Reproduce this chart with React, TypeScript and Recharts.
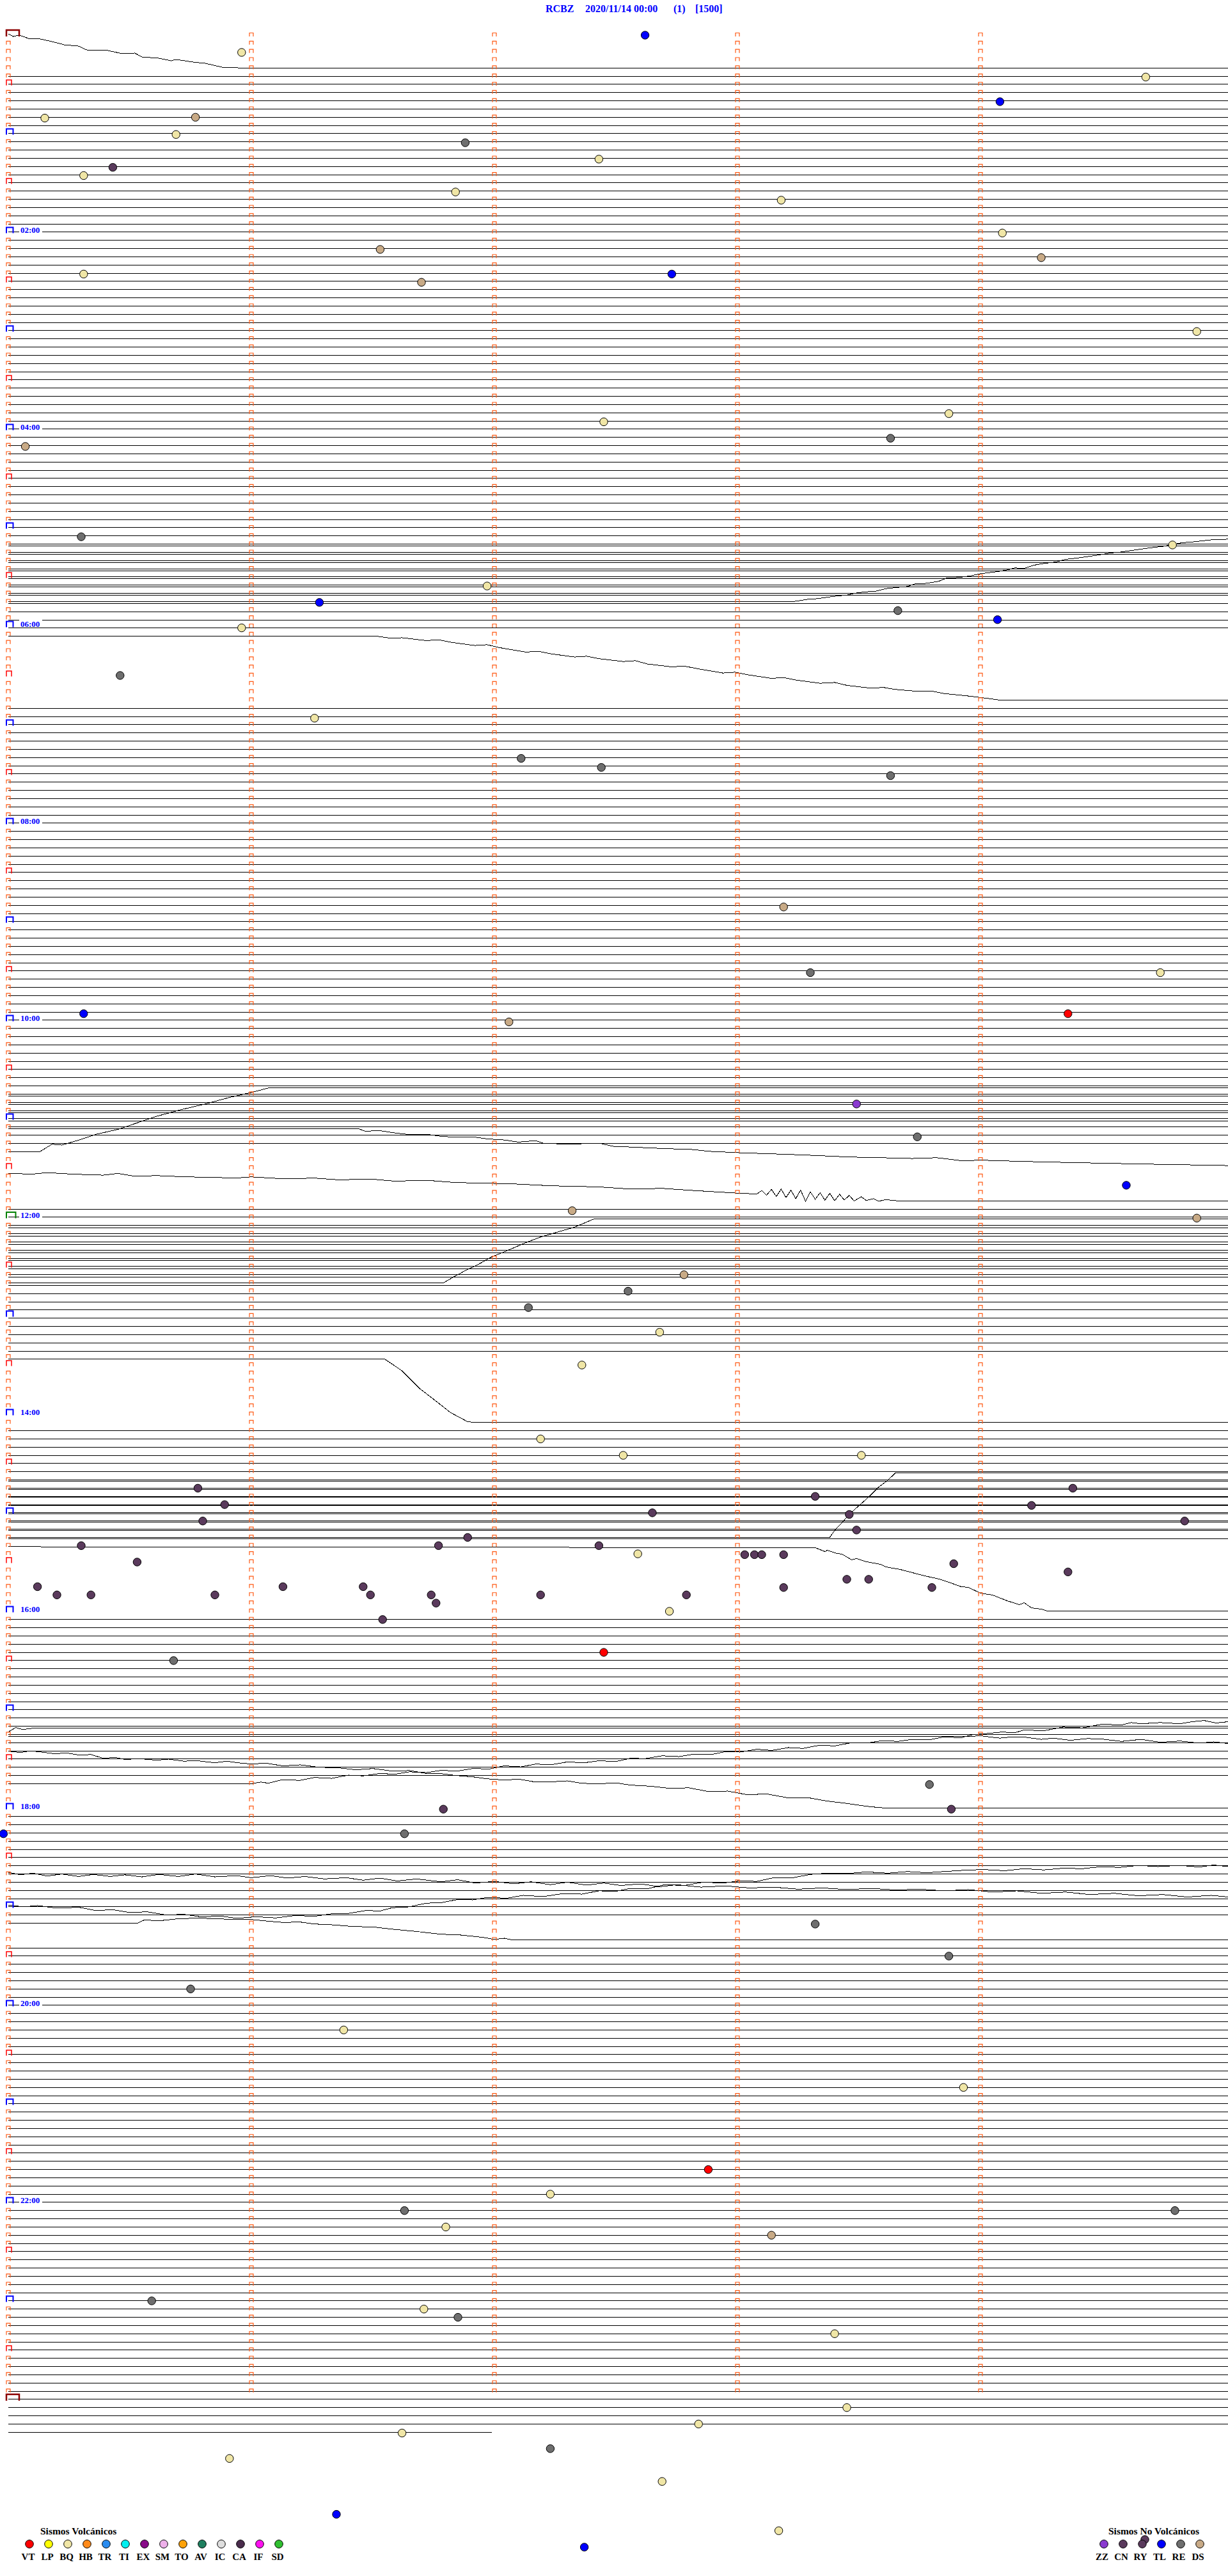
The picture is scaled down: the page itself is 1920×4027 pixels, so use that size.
import { ComposedChart, Line, Scatter, XAxis, YAxis } from 'recharts';

// helicorder RCBZ 2020/11/14 — one row = 5 min, one vertical tick = 1 min
const W = 1920;
const H = 4027;
const PX_PER_MIN = 380;
const PX_PER_ROW = 12.833;
const LEFT_PX = 13;
const TOP_PX = 55;
const X_DOMAIN: [number, number] = [-LEFT_PX / PX_PER_MIN, (W - LEFT_PX) / PX_PER_MIN];
const Y_DOMAIN: [number, number] = [-TOP_PX / PX_PER_ROW, (H - TOP_PX) / PX_PER_ROW];
const T_END = X_DOMAIN[1];

const ROW_COUNT = 293; // 00:00 .. 24:20
const MARKED_ROWS = 288;
const MINUTE_TICKS = [0, 1, 2, 3, 4];
const HOUR_LABELS = ['02:00', '04:00', '06:00', '08:00', '10:00', '12:00', '14:00', '16:00', '18:00', '20:00', '22:00'];

// rows whose own baseline is not drawn (their trace is drawn elsewhere)
const HIDDEN_ROWS = [0, 1, 2, 3, 4, 69, 81, 136, 141, 142, 152, 169, 183, 192, 213, 214, 215, 216, 230, 231, 232];
const PARTIAL_ROWS = [{ row: 292, end: 1.99 }];
// rows drawn with a constant DC shift (in rows)
const OFFSET_BLOCKS = [
  { first: 70, last: 80, shift: -7.77 },
  { first: 137, last: 140, shift: -7.75 },
  { first: 153, last: 168, shift: -7.7 },
  { first: 184, last: 191, shift: -7.87 },
];

// drifting traces: [minute, row position]
const TRACE_0 = [[0, -0.16], [0.02, 0.16], [0.045, 0], [0.09, 0.47], [0.12, 0.39], [0.18, 0.78], [0.23, 1.17], [0.29, 1.33], [0.32, 1.79], [0.41, 1.87], [0.47, 2.26], [0.52, 2.18], [0.55, 2.65], [0.62, 2.81], [0.67, 3.12], [0.69, 2.96], [0.76, 3.27], [0.81, 3.43], [0.88, 3.9], [0.93, 3.9], [0.95, 4.0], [5.02, 4.0]];
const TRACE_69 = [[0, 69], [3.23, 69], [3.29, 68.72], [3.33, 68.64], [3.39, 68.38], [3.45, 68.2], [3.49, 67.94], [3.53, 67.81], [3.57, 67.73], [3.61, 67.42], [3.65, 67.29], [3.7, 67.16], [3.73, 66.85], [3.78, 66.77], [3.83, 66.51], [3.86, 66.12], [3.91, 66.07], [3.96, 65.86], [4.0, 65.6], [4.07, 65.34], [4.12, 65.08], [4.14, 64.9], [4.18, 64.95], [4.22, 64.56], [4.26, 64.36], [4.31, 64.17], [4.35, 63.86], [4.41, 63.65], [4.47, 63.39], [4.54, 63.06], [4.58, 62.95], [4.63, 62.74], [4.69, 62.48], [4.75, 62.27], [4.83, 61.83], [4.88, 61.71], [4.96, 61.44], [5.02, 61.4]];
const TRACE_81 = [[0, 73.23], [1.52, 73.23], [1.57, 73.45], [1.62, 73.4], [1.72, 73.75], [1.77, 73.65], [1.82, 73.95], [1.92, 74.35], [1.97, 74.25], [2.02, 74.6], [2.13, 75.15], [2.18, 75.05], [2.23, 75.35], [2.33, 75.75], [2.38, 75.65], [2.43, 75.95], [2.53, 76.3], [2.58, 76.2], [2.63, 76.6], [2.73, 76.95], [2.78, 76.85], [2.84, 77.2], [2.94, 77.7], [2.99, 77.6], [3.04, 77.9], [3.14, 78.35], [3.19, 78.25], [3.24, 78.55], [3.34, 78.95], [3.4, 78.85], [3.45, 79.2], [3.55, 79.55], [3.6, 79.45], [3.65, 79.7], [3.75, 79.95], [3.8, 79.9], [3.85, 80.2], [3.95, 80.5], [4.02, 80.75], [4.08, 81], [5.02, 81]];
const TRACE_136 = [[0, 136], [0.13, 136], [0.18, 135.1], [0.22, 135.2], [0.29, 134.6], [0.36, 133.9], [0.45, 133.3], [0.55, 132.3], [0.61, 131.7], [0.71, 130.9], [0.81, 130.2], [0.91, 129.4], [1.0, 128.8], [1.07, 128.25], [5.02, 128.25]];
const TRACE_141 = [[0, 133.25], [1.36, 133.23], [1.44, 133.2], [1.47, 133.54], [1.52, 133.41], [1.59, 133.72], [1.65, 133.93], [1.72, 133.88], [1.78, 134.14], [1.84, 134.24], [1.91, 134.19], [1.97, 134.45], [2.04, 134.58], [2.1, 134.84], [2.17, 134.66], [2.2, 134.97], [2.3, 135.1], [2.43, 134.97], [2.49, 135.36], [2.56, 135.44], [2.69, 135.62], [2.82, 135.75], [2.88, 135.96], [3.01, 136.14], [3.21, 136.34], [3.33, 136.48], [3.46, 136.66], [3.59, 136.74], [3.72, 136.84], [3.82, 136.74], [3.92, 137.1], [4.01, 137.05], [4.18, 137.2], [4.34, 137.31], [4.5, 137.41], [4.66, 137.51], [4.82, 137.59], [5.02, 137.7]];
const TRACE_142 = [[0, 138.66], [0.1, 138.74], [0.16, 138.56], [0.26, 138.74], [0.39, 138.87], [0.45, 138.66], [0.52, 139.0], [0.61, 138.92], [0.71, 139.05], [0.81, 139.13], [0.94, 139.21], [1.0, 139.08], [1.13, 139.31], [1.26, 139.23], [1.36, 139.44], [1.49, 139.34], [1.59, 139.6], [1.72, 139.49], [1.84, 139.77], [1.97, 139.85], [2.1, 139.96], [2.23, 140.16], [2.43, 140.3], [2.56, 140.56], [2.69, 140.48], [2.82, 140.74], [2.91, 140.9], [3.01, 141.08], [3.08, 141.16], [3.1, 140.74], [3.12, 141.3], [3.14, 140.6], [3.16, 141.47], [3.18, 140.56], [3.2, 141.6], [3.22, 140.7], [3.24, 141.73], [3.26, 140.69], [3.28, 142.04], [3.3, 140.9], [3.32, 141.8], [3.34, 141.0], [3.36, 141.91], [3.38, 141.08], [3.4, 141.99], [3.42, 141.2], [3.44, 141.9], [3.46, 141.33], [3.48, 142.0], [3.51, 141.5], [3.53, 141.95], [3.56, 141.73], [3.58, 142.05], [3.61, 141.85], [3.66, 142.0], [5.02, 142.0]];
const TRACE_152 = [[0, 152], [1.79, 152], [1.83, 151.3], [1.88, 150.5], [1.93, 149.8], [1.99, 148.8], [2.05, 148.1], [2.12, 147.2], [2.19, 146.4], [2.26, 145.8], [2.33, 145.2], [2.37, 144.7], [2.41, 144.2], [5.02, 144.2]];
const TRACE_169 = [[0, 161.3], [1.55, 161.3], [1.62, 162.7], [1.69, 164.8], [1.76, 166.4], [1.82, 167.8], [1.89, 168.9], [1.92, 169], [5.02, 169]];
const TRACE_183 = [[0, 183], [3.38, 183], [3.4, 182.14], [3.43, 181.21], [3.46, 180.2], [3.48, 179.65], [3.51, 178.87], [3.55, 177.8], [3.58, 176.9], [3.62, 176.0], [3.65, 175.13], [5.02, 175.13]];
const TRACE_192 = [[0, 184.13], [3.32, 184.25], [3.36, 184.72], [3.37, 184.56], [3.41, 184.95], [3.43, 185.03], [3.47, 185.73], [3.49, 185.58], [3.53, 185.96], [3.59, 186.28], [3.61, 186.59], [3.67, 186.9], [3.72, 187.29], [3.77, 187.68], [3.83, 188.07], [3.87, 188.46], [3.92, 189.0], [3.95, 189.08], [4.0, 189.79], [4.05, 190.02], [4.11, 190.72], [4.16, 191.19], [4.18, 190.96], [4.21, 191.58], [4.25, 191.73], [4.28, 192], [5.02, 192]];
const TRACE_213 = [[0, 213], [1.0, 213], [1.04, 212.8], [1.07, 212.94], [1.13, 212.5], [1.2, 212.6], [1.26, 212.24], [1.33, 212.35], [1.4, 211.95], [1.46, 212.05], [1.53, 211.75], [1.59, 211.85], [1.65, 211.55], [1.72, 211.65], [1.78, 211.38], [1.85, 211.45], [1.91, 211.15], [1.98, 211.2], [2.04, 210.83], [2.11, 210.95], [2.17, 210.6], [2.23, 210.7], [2.3, 210.35], [2.37, 210.45], [2.43, 210.2], [2.5, 210.3], [2.56, 209.9], [2.62, 209.95], [2.69, 209.6], [2.76, 209.7], [2.82, 209.4], [2.89, 209.45], [2.95, 209.1], [3.01, 209.15], [3.08, 208.8], [3.14, 208.95], [3.21, 208.6], [3.27, 208.7], [3.34, 208.3], [3.4, 208.4], [3.47, 208.0], [3.53, 208.05], [3.6, 207.75], [3.66, 207.85], [3.72, 207.6], [3.79, 207.65], [3.85, 207.3], [3.92, 207.4], [3.97, 207.0], [4.01, 206.94], [4.09, 206.7], [4.14, 206.8], [4.18, 206.45], [4.26, 206.55], [4.34, 206.1], [4.42, 206.2], [4.5, 205.75], [4.58, 205.85], [4.62, 205.55], [4.66, 205.7], [4.74, 205.55], [4.82, 205.7], [4.87, 205.45], [4.92, 205.3], [4.97, 205.6], [5.02, 205.45]];
const TRACE_214 = [[0, 206.7], [0.03, 206.16], [0.06, 206.4], [0.1, 206.24], [5.02, 206.24]];
const TRACE_215 = [[0, 207.25], [4.01, 207.2], [4.08, 207.45], [4.13, 207.3], [4.18, 207.32], [4.25, 207.6], [4.3, 207.45], [4.37, 207.71], [4.44, 207.5], [4.5, 207.56], [4.58, 207.85], [4.66, 207.6], [4.74, 207.95], [4.82, 207.8], [4.9, 208.05], [4.96, 207.9], [5.02, 208.1]];
const TRACE_216 = [[0, 209.04], [0.05, 209.2], [0.09, 209.0], [0.13, 209.12], [0.19, 209.35], [0.24, 209.25], [0.29, 209.5], [0.34, 209.45], [0.39, 209.9], [0.44, 209.8], [0.48, 210.05], [0.54, 209.95], [0.61, 210.13], [0.66, 210.0], [0.72, 210.25], [0.78, 210.21], [0.85, 210.45], [0.9, 210.25], [0.94, 210.44], [1.0, 210.6], [1.06, 210.5], [1.13, 210.83], [1.2, 210.7], [1.28, 211.0], [1.36, 211.07], [1.43, 211.3], [1.5, 211.15], [1.58, 211.46], [1.65, 211.4], [1.72, 211.75], [1.78, 211.77], [1.84, 212.0], [1.91, 212.16], [1.97, 212.4], [2.04, 212.55], [2.1, 212.45], [2.16, 212.75], [2.23, 212.78], [2.3, 212.65], [2.36, 212.95], [2.43, 213.01], [2.5, 212.9], [2.56, 213.17], [2.64, 213.3], [2.72, 213.56], [2.8, 213.5], [2.88, 213.95], [2.96, 213.9], [3.04, 214.34], [3.12, 214.25], [3.21, 214.73], [3.29, 214.7], [3.37, 215.12], [3.45, 215.4], [3.53, 215.74], [3.58, 215.9], [3.63, 216], [5.02, 216]];
const TRACE_228 = [[0, 227.77], [0.06, 228.0], [0.12, 227.85], [0.2, 228.15], [0.29, 228.05], [0.36, 228.45], [0.43, 228.35], [0.5, 228.7], [0.57, 228.6], [0.65, 229.0], [0.72, 228.9], [0.8, 229.25], [0.87, 229.1], [0.94, 229.4], [1.02, 229.2], [1.1, 229.35], [1.18, 229.05], [1.26, 229.15], [1.33, 228.85], [1.4, 228.8], [1.47, 228.45], [1.53, 228.5], [1.58, 228.1], [1.65, 228.0], [1.72, 227.55], [1.78, 227.5], [1.85, 227.1], [1.91, 227.15], [1.97, 226.85], [2.05, 226.95], [2.12, 226.6], [2.2, 226.75], [2.28, 226.4], [2.36, 226.45], [2.43, 226.05], [2.5, 226.1], [2.56, 225.75], [2.63, 225.8], [2.7, 225.3], [2.78, 225.4], [2.86, 225.0], [2.94, 225.1], [3.01, 224.85], [3.08, 224.9], [3.15, 224.45], [3.22, 224.5], [3.3, 224.05], [3.37, 223.9], [3.45, 223.95], [3.53, 223.75], [3.62, 223.9], [3.7, 223.7], [3.78, 223.85], [3.85, 223.7], [3.93, 223.55], [4.01, 223.45], [4.1, 223.6], [4.18, 223.35], [4.26, 223.5], [4.34, 223.3], [4.42, 223.35], [4.5, 223.1], [4.57, 223.2], [4.65, 222.95], [4.73, 223.1], [4.82, 222.95], [4.9, 223.15], [4.96, 222.9], [5.02, 223.1]];
const TRACE_229 = [[0, 223.8], [0.05, 224.1], [0.1, 223.9], [0.16, 224.25], [0.22, 224.0], [0.29, 224.3], [0.35, 224.05], [0.42, 224.3], [0.48, 224.1], [0.55, 224.35], [0.62, 224.05], [0.7, 224.3], [0.77, 224.0], [0.85, 224.35], [0.94, 224.2], [1.0, 224.45], [1.08, 224.2], [1.15, 224.5], [1.22, 224.3], [1.3, 224.6], [1.39, 224.45], [1.46, 224.75], [1.53, 224.5], [1.6, 224.85], [1.68, 224.6], [1.78, 224.95], [1.85, 224.7], [1.92, 225.1], [2.0, 224.9], [2.08, 225.2], [2.15, 224.95], [2.23, 225.3], [2.3, 225.0], [2.38, 225.35], [2.45, 225.1], [2.52, 225.4], [2.6, 225.2], [2.68, 225.55], [2.75, 225.3], [2.85, 225.6], [2.95, 225.45], [3.05, 225.7], [3.15, 225.6], [3.25, 225.85], [3.35, 225.7], [3.45, 225.9], [3.55, 225.75], [3.65, 225.95], [3.75, 225.85], [3.85, 226.05], [3.95, 225.9], [4.05, 226.2], [4.15, 226.05], [4.25, 226.35], [4.35, 226.2], [4.45, 226.5], [4.55, 226.35], [4.65, 226.65], [4.75, 226.5], [4.85, 226.8], [4.95, 226.6], [5.02, 226.8]];
const TRACE_230 = [[0, 230], [0.53, 230], [0.56, 229.6], [0.62, 229.7], [0.7, 229.45], [0.78, 229.37], [0.9, 229.5], [1.0, 229.54], [1.07, 229.75], [1.13, 229.9], [1.2, 229.85], [1.26, 230.09], [1.34, 230.2], [1.42, 230.4], [1.5, 230.45], [1.58, 230.72], [1.68, 231.0], [1.78, 231.34], [1.85, 231.4], [1.91, 231.58], [1.96, 231.75], [2.0, 231.97], [2.04, 231.82], [2.07, 232.0], [5.02, 232.0]];

const DRIFT_TRACES = [TRACE_0, TRACE_69, TRACE_81, TRACE_136, TRACE_141, TRACE_142, TRACE_152, TRACE_169, TRACE_183, TRACE_192, TRACE_213, TRACE_214, TRACE_215, TRACE_216, TRACE_228, TRACE_229, TRACE_230];

// events: [minute, row position]
const EVENTS_BQ = [[0.96, 2.1], [4.68, 5.1], [0.15, 10.1], [0.69, 12.1], [2.43, 15.1], [0.31, 17.1], [1.84, 19.1], [3.18, 20.1], [4.09, 24.1], [0.31, 29.1], [4.89, 36.1], [2.45, 47.1], [3.87, 46.1], [4.79, 62.1], [1.97, 67.1], [0.96, 72.2], [1.26, 83.2], [4.74, 114.2], [2.68, 158], [2.36, 162], [2.19, 171], [2.53, 173], [3.51, 173], [2.59, 185], [2.72, 192], [1.38, 243], [3.93, 250], [2.23, 263], [1.8, 267], [1.71, 277], [3.4, 280], [3.45, 289], [2.84, 291], [1.62, 292.1], [0.91, 295.2], [2.69, 298], [3.17, 304]];
const EVENTS_DS = [[0.77, 10], [1.53, 26.1], [4.25, 27.1], [1.7, 30.1], [0.07, 50.1], [3.19, 106.2], [2.06, 120.2], [2.32, 143.2], [4.89, 144.1], [2.78, 151], [3.14, 268]];
const EVENTS_RE = [[1.88, 13.1], [3.63, 49.1], [0.3, 61.1], [3.66, 70.1], [0.46, 78], [2.11, 88.1], [2.44, 89.2], [3.63, 90.2], [3.3, 114.2], [3.74, 134.2], [2.14, 155], [2.55, 153], [0.68, 198], [3.79, 213.1], [1.63, 219.1], [3.32, 230.1], [3.87, 234.0], [0.75, 238], [1.63, 265], [4.8, 265], [0.59, 276], [1.85, 278], [2.23, 294]];
const EVENTS_TL = [[2.62, 0], [4.08, 8.1], [2.73, 29.1], [1.28, 69.1], [4.07, 71.2], [0.31, 119.2], [4.6, 140.1], [-0.02, 219.1], [1.35, 302], [2.37, 306]];
const EVENTS_VT = [[4.36, 119.2], [2.45, 197], [2.88, 260]];
const EVENTS_ZZ = [[3.49, 130.2]];
const EVENTS_CN = [[0.43, 16.1], [0.78, 177], [0.89, 179], [4.38, 177], [3.32, 178], [4.21, 179.1], [2.65, 180], [0.8, 181], [3.46, 180.2], [3.49, 182.1], [4.84, 181], [1.89, 183], [1.77, 184], [0.3, 184], [2.43, 184], [3.03, 185.1], [3.07, 185.1], [3.1, 185.1], [3.19, 185.1], [0.53, 186], [3.89, 186.2], [4.36, 187.2], [3.45, 188.1], [3.54, 188.1], [0.12, 189], [3.19, 189.1], [3.8, 189.1], [0.2, 190], [0.34, 190], [0.85, 190], [1.13, 189], [1.46, 189], [1.49, 190], [1.74, 190], [1.76, 191], [2.19, 190], [2.79, 190], [1.54, 193], [3.88, 216.1], [1.79, 216.1]];

const EVENT_SERIES = [
  { code: 'BQ', pts: EVENTS_BQ },
  { code: 'DS', pts: EVENTS_DS },
  { code: 'RE', pts: EVENTS_RE },
  { code: 'TL', pts: EVENTS_TL },
  { code: 'VT', pts: EVENTS_VT },
  { code: 'ZZ', pts: EVENTS_ZZ },
  { code: 'CN', pts: EVENTS_CN },
];

const VOLCANIC_CODES = ['VT', 'LP', 'BQ', 'HB', 'TR', 'TI', 'EX', 'SM', 'TO', 'AV', 'IC', 'CA', 'IF', 'SD'];
const NON_VOLCANIC_CODES = ['ZZ', 'CN', 'RY', 'TL', 'RE', 'DS'];

const COLORS: Record<string, string> = {
  VT: '#ff0000', LP: '#ffff00', BQ: '#f0e6a6', HB: '#ff8a1a', TR: '#2a8cf0', TI: '#00f0f0',
  EX: '#880a88', SM: '#eeb0ea', TO: '#ffa30a', AV: '#1f8060', IC: '#dedede', CA: '#4a2c4c',
  IF: '#ff10f0', SD: '#30c030', ZZ: '#8a3ad0', CN: '#5a3a5c', RY: '#5a3a5c', TL: '#0000ff',
  RE: '#6e6e6e', DS: '#c8aa86',
};

const FONT = '"Liberation Serif", "DejaVu Serif", serif';

type Pt = { t: number; pos: number | null };

function buildFlat(): Pt[] {
  const out: Pt[] = [];
  const hidden = new Set(HIDDEN_ROWS);
  OFFSET_BLOCKS.forEach((b) => {
    for (let r = b.first; r <= b.last; r++) hidden.add(r);
  });
  for (let r = 0; r < ROW_COUNT; r++) {
    if (hidden.has(r)) continue;
    const part = PARTIAL_ROWS.find((p) => p.row === r);
    const end = part ? part.end : T_END;
    out.push({ t: 0, pos: r }, { t: end, pos: r }, { t: end, pos: null });
  }
  OFFSET_BLOCKS.forEach((b) => {
    for (let r = b.first; r <= b.last; r++) {
      out.push({ t: 0, pos: r + b.shift }, { t: T_END, pos: r + b.shift }, { t: T_END, pos: null });
    }
  });
  return out;
}

function buildDrift(): Pt[] {
  const out: Pt[] = [];
  DRIFT_TRACES.forEach((tr) => {
    tr.forEach(([t, pos]) => out.push({ t: Math.min(t, T_END), pos }));
    out.push({ t: T_END, pos: null });
  });
  return out;
}

function buildMarkers() {
  const out: { t: number; pos: number; kind: string }[] = [];
  for (let r = 0; r < MARKED_ROWS; r++) {
    MINUTE_TICKS.forEach((m) => {
      let kind = 'min';
      if (m === 0) {
        if (r === 0) kind = 'day';
        else if (r === 144) kind = 'noon';
        else if (r % 12 === 0) kind = 'hour';
        else if (r % 12 === 6) kind = 'half';
      }
      out.push({ t: m, pos: r, kind });
    });
  }
  out.push({ t: 0, pos: MARKED_ROWS, kind: 'day' });
  return out;
}

const flatData = buildFlat();
const driftData = buildDrift();
const markerData = buildMarkers();
const labelData = HOUR_LABELS.map((label) => ({ t: 0, pos: parseInt(label, 10) * 12, label }));

function MarkerShape(props: any) {
  const { cx, cy, payload } = props;
  const k = payload.kind;
  if (k === 'min') {
    return <path d={`M${cx - 3},${cy + 2}V${cy - 3.5}H${cx + 3}V${cy + 2}`} fill="none" stroke="#ff5a14" strokeWidth={1.2} />;
  }
  if (k === 'half') {
    return <path d={`M${cx - 3},${cy + 1.5}V${cy - 7}H${cx + 5}V${cy + 1.5}`} fill="none" stroke="#ff0000" strokeWidth={1.5} />;
  }
  if (k === 'hour') {
    return <path d={`M${cx - 3},${cy + 1.5}V${cy - 7.5}H${cx + 7.5}V${cy + 1.5}`} fill="none" stroke="#0000ff" strokeWidth={2} />;
  }
  if (k === 'noon') {
    return <path d={`M${cx - 3},${cy + 1.5}V${cy - 8}H${cx + 11.5}V${cy + 1.5}`} fill="none" stroke="#008000" strokeWidth={2} />;
  }
  return <path d={`M${cx - 3},${cy + 2}V${cy - 8}H${cx + 17}V${cy + 2}`} fill="none" stroke="#8b0000" strokeWidth={2.5} />;
}

function HourLabel(props: any) {
  const { cx, cy, payload } = props;
  return (
    <g>
      <rect x={cx + 17} y={cy - 11} width={36} height={13} fill="#ffffff" />
      <text x={cx + 19} y={cy + 1} fontSize={13} fontWeight="bold" fontFamily={FONT} fill="#0000ff">
        {payload.label}
      </text>
    </g>
  );
}

const eventShape = (fill: string) => (props: any) => (
  <circle cx={props.cx} cy={props.cy} r={6.2} fill={fill} stroke="#000000" strokeWidth={1} />
);

function LegendDot({ x, code }: { x: number; code: string }) {
  const fill = COLORS[code];
  if (code === 'RY') {
    return (
      <g>
        <circle cx={x + 4} cy={3970} r={6.2} fill={fill} stroke="#000" strokeWidth={1} />
        <circle cx={x} cy={3977} r={6.2} fill={fill} stroke="#000" strokeWidth={1} />
      </g>
    );
  }
  return <circle cx={x} cy={3977} r={6.3} fill={fill} stroke="#000" strokeWidth={1} />;
}

export default function App() {
  return (
    <div style={{ position: 'absolute', left: 0, top: 0, width: W, height: H, background: '#fff' }}>
      <style>{`.heli-trace path { shape-rendering: crispEdges; }`}</style>
      <ComposedChart width={W} height={H} margin={{ top: 0, right: 0, bottom: 0, left: 0 }}>
        <XAxis type="number" dataKey="t" domain={X_DOMAIN} allowDataOverflow hide />
        <YAxis type="number" dataKey="pos" domain={Y_DOMAIN} allowDataOverflow reversed hide />
        <Line
          className="heli-trace"
          data={flatData}
          dataKey="pos"
          type="linear"
          stroke="#000"
          strokeWidth={1}
          dot={false}
          activeDot={false}
          connectNulls={false}
          isAnimationActive={false}
        />
        <Line
          className="heli-trace"
          data={driftData}
          dataKey="pos"
          type="linear"
          stroke="#000"
          strokeWidth={1}
          dot={false}
          activeDot={false}
          connectNulls={false}
          isAnimationActive={false}
        />
        <Scatter data={markerData} shape={MarkerShape} isAnimationActive={false} />
        <Scatter data={labelData} shape={HourLabel} isAnimationActive={false} />
        {EVENT_SERIES.map((s) => (
          <Scatter
            key={s.code}
            name={s.code}
            data={s.pts.map(([t, pos]) => ({ t, pos }))}
            shape={eventShape(COLORS[s.code])}
            isAnimationActive={false}
          />
        ))}
      </ComposedChart>
      <svg width={W} height={H} style={{ position: 'absolute', left: 0, top: 0, pointerEvents: 'none' }}>
        <g fontFamily={FONT} fontWeight="bold" fontSize={16} fill="#0000ff">
          <text x={853} y={19}>RCBZ</text>
          <text x={915} y={19}>2020/11/14 00:00</text>
          <text x={1053} y={19}>(1)</text>
          <text x={1087} y={19}>[1500]</text>
        </g>
        <text x={63} y={3962} fontFamily={FONT} fontWeight="bold" fontSize={15.5} fill="#000">Sismos Volcánicos</text>
        <text x={1733} y={3962} fontFamily={FONT} fontWeight="bold" fontSize={15.5} fill="#000">Sismos No Volcánicos</text>
        {VOLCANIC_CODES.map((c, i) => (
          <g key={c}>
            <LegendDot x={46 + i * 30} code={c} />
            <text x={44 + i * 30} y={4002} textAnchor="middle" fontFamily={FONT} fontWeight="bold" fontSize={15} fill="#000">{c}</text>
          </g>
        ))}
        {NON_VOLCANIC_CODES.map((c, i) => (
          <g key={c}>
            <LegendDot x={1726 + i * 30} code={c} />
            <text x={1723 + i * 30} y={4002} textAnchor="middle" fontFamily={FONT} fontWeight="bold" fontSize={15} fill="#000">{c}</text>
          </g>
        ))}
      </svg>
    </div>
  );
}
